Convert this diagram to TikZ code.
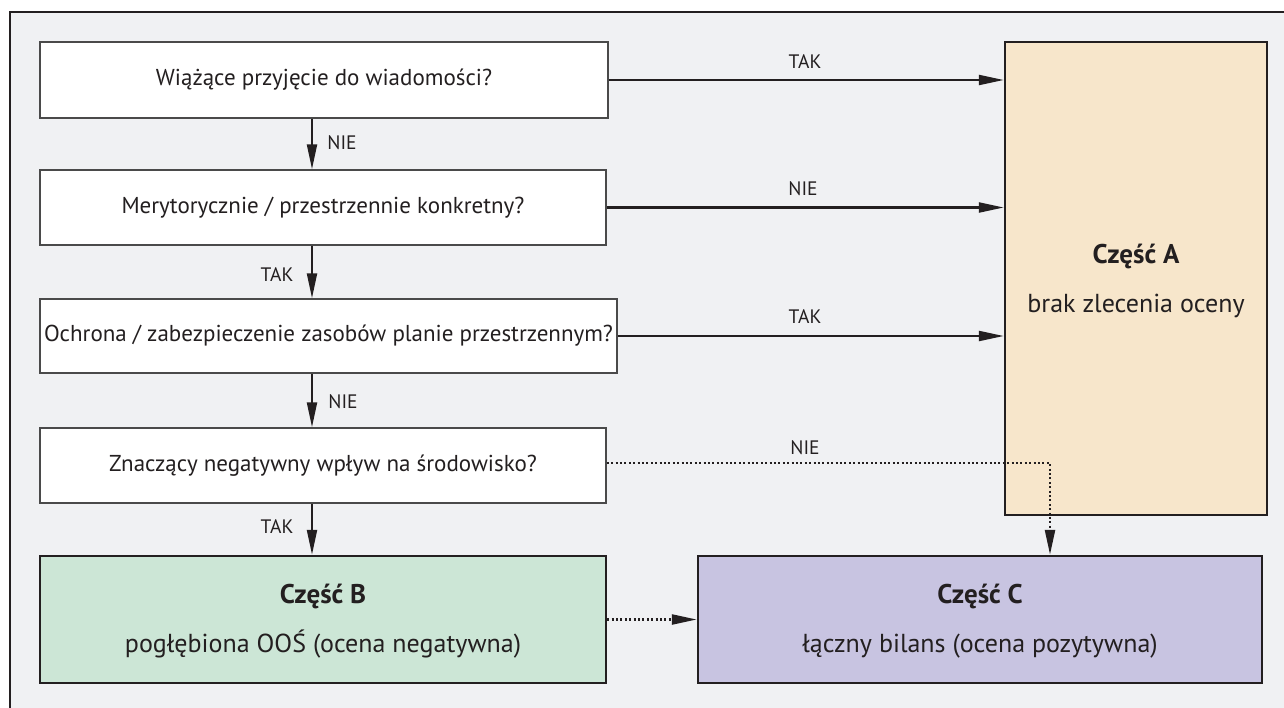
\documentclass[tikz,border=0pt]{standalone}
\usepackage{fontspec}
\setmainfont{PT Sans}
\usetikzlibrary{arrows.meta}
\definecolor{bg}{HTML}{F0F1F3}
\definecolor{ink}{HTML}{231F20}
\definecolor{qline}{HTML}{4A4A4A}
\definecolor{fillA}{HTML}{F7E6CB}
\definecolor{fillB}{HTML}{CCE6D6}
\definecolor{fillC}{HTML}{C8C4E1}
\tikzset{
  qbox/.style={draw=qline, line width=1.5pt, fill=white, inner sep=0pt, font=\fontsize{23}{27}\selectfont, text=ink},
  resbox/.style={draw=ink, line width=2.5pt, inner sep=0pt},
  restext/.style={align=center, font=\fontsize{26}{30}\selectfont, text=ink, inner sep=0pt},
  conn/.style={draw=ink, line width=2.2pt, -{Triangle[length=25pt,width=10pt]}},
  dotconn/.style={draw=ink, line width=2.4pt, dash pattern=on 2pt off 2.4pt, -{Triangle[length=25pt,width=10pt]}},
  lbl/.style={font=\fontsize{19.5}{22}\selectfont, text=ink, inner sep=0pt}
}
\begin{document}
\begin{tikzpicture}[x=1pt,y=-1pt]
\useasboundingbox (0,0) rectangle (1284,707);
\clip (0,0) rectangle (1284,707);
\draw[line width=2.5pt, draw=ink, fill=bg] (10,12) rectangle (1330,760);

\node[qbox, minimum width=568pt, minimum height=76pt] (q1) at (324,80) {Wiążące przyjęcie do wiadomości?};
\node[qbox, minimum width=566pt, minimum height=75pt] (q2) at (323,207.5) {Merytorycznie / przestrzennie konkretny?};
\node[qbox, minimum width=577pt, minimum height=74pt] (q3) at (328.5,336) {Ochrona / zabezpieczenie zasobów planie przestrzennym?};
\node[qbox, minimum width=566pt, minimum height=75pt] (q4) at (323,465.5) {Znaczący negatywny wpływ na środowisko?};

\node[resbox, fill=fillA, minimum width=262pt, minimum height=473pt] (A) at (1136,278.5) {};
\node[restext] (At) at (1136,281) {{\fontsize{27}{30}\selectfont\bfseries Część A}\\[19pt]brak zlecenia oceny};
\node[resbox, fill=fillB, minimum width=566pt, minimum height=127pt] (B) at (323,619.5) {};
\node[restext] (Bt) at (323,621) {{\fontsize{27}{30}\selectfont\bfseries Część B}\\[19pt]pogłębiona OOŚ (ocena negatywna)};
\node[resbox, fill=fillC, minimum width=564pt, minimum height=127pt] (C) at (980,619.5) {};
\node[restext] (Ct) at (980,621) {{\fontsize{27}{30}\selectfont\bfseries Część C}\\[19pt]łączny bilans (ocena pozytywna)};

\coordinate (v) at (312,0);
\coordinate (k) at (1050,463);

\draw[conn] (q1.south -| v) -- (q2.north -| v);
\draw[conn] (q2.south -| v) -- (q3.north -| v);
\draw[conn] (q3.south -| v) -- (q4.north -| v);
\draw[conn] (q4.south -| v) -- (B.north -| v);

\draw[conn] (q1.east) -- (q1.east -| A.west);
\draw[conn] (q2.east) -- (q2.east -| A.west);
\draw[conn] (q3.east) -- (q3.east -| A.west);
\draw[dotconn] (q4.east |- k) -- (k) -- (k |- C.north);
\draw[dotconn] (B.east) -- (C.west);

\node[lbl] (l1) at (805,62) {TAK};
\node[lbl] (l2) at (803,189) {NIE};
\node[lbl] (l3) at (805,317) {TAK};
\node[lbl] (l4) at (805,448) {NIE};
\node[lbl] (l5) at (342,143) {NIE};
\node[lbl] (l6) at (277,275) {TAK};
\node[lbl] (l7) at (343,402) {NIE};
\node[lbl] (l8) at (277,527) {TAK};
\end{tikzpicture}
\end{document}
